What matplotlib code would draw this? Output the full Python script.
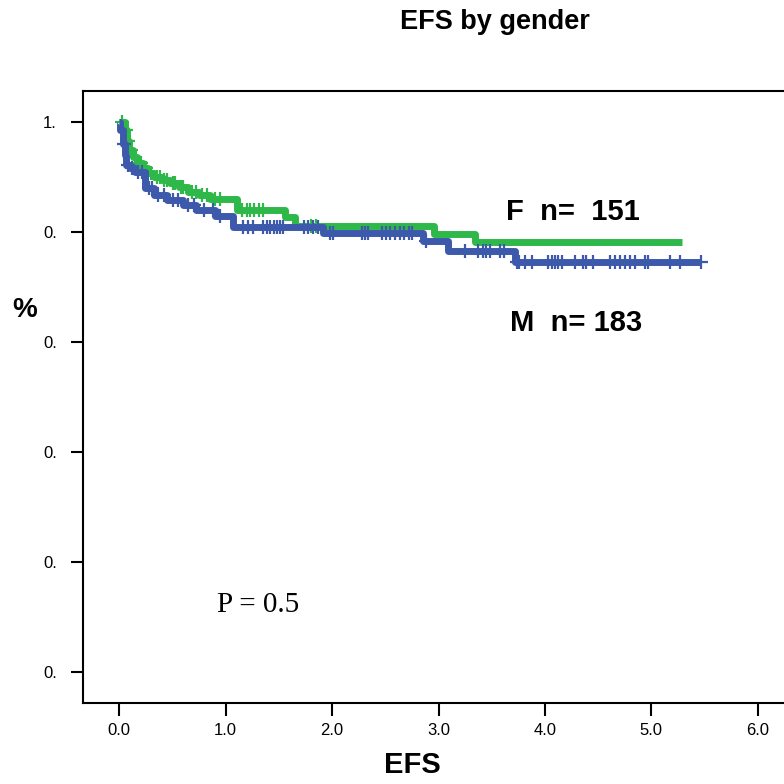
import numpy as np
import matplotlib.pyplot as plt

# ---- data (Kaplan-Meier style step curves) ----
f_times = [0.0, 0.05, 0.07, 0.09, 0.13, 0.17, 0.22, 0.27, 0.33, 0.40, 0.48,
           0.56, 0.65, 0.75, 0.85, 1.11, 1.56, 1.65, 2.96, 3.34]
f_surv = [1.0, 0.985, 0.965, 0.948, 0.935, 0.925, 0.915, 0.907, 0.900, 0.894,
          0.888, 0.881, 0.873, 0.866, 0.860, 0.839, 0.827, 0.810, 0.796, 0.781]
f_end = 5.29
f_cens = [0.03, 0.06, 0.08, 0.11, 0.15, 0.19, 0.20, 0.24, 0.25, 0.30, 0.35,
          0.38, 0.42, 0.45, 0.50, 0.52, 0.58, 0.60, 0.68, 0.72, 0.78, 0.82,
          0.90, 0.95, 1.15, 1.20, 1.23, 1.27, 1.31, 1.35, 1.80, 1.85]

m_times = [0.0, 0.005, 0.035, 0.05, 0.06, 0.10, 0.15, 0.24, 0.33, 0.45, 0.60,
           0.72, 0.90, 1.07, 1.91, 2.85, 3.09, 3.72]
m_surv = [1.0, 0.985, 0.96, 0.94, 0.921, 0.915, 0.909, 0.879, 0.867, 0.858,
          0.849, 0.839, 0.828, 0.809, 0.798, 0.783, 0.765, 0.745]
m_end = 5.47
m_cens = [0.04, 0.08, 0.12, 0.18, 0.21, 0.28, 0.31, 0.36, 0.42, 0.50, 0.55,
          0.65, 0.70, 0.80, 0.88, 0.95, 1.16, 1.21, 1.26, 1.35, 1.39, 1.42,
          1.45, 1.48, 1.51, 1.54, 1.74, 1.77, 1.82, 1.87, 1.98, 2.01, 2.28,
          2.31, 2.34, 2.47, 2.51, 2.54, 2.59, 2.64, 2.68, 2.72, 2.75, 2.88,
          3.25, 3.37, 3.42, 3.45, 3.48, 3.58, 3.62, 3.735, 3.757, 3.81,
          3.876, 4.03, 4.063, 4.095, 4.12, 4.157, 4.28, 4.36, 4.39, 4.45,
          4.61, 4.66, 4.71, 4.75, 4.80, 4.85, 4.94, 4.97, 5.18, 5.27, 5.47]

x_ticks = [0.0, 1.0, 2.0, 3.0, 4.0, 5.0, 6.0]
x_labels = ["0.0", "1.0", "2.0", "3.0", "4.0", "5.0", "6.0"]
y_ticks = [0.0, 0.2, 0.4, 0.6, 0.8, 1.0]
y_labels = ["0.", "0.", "0.", "0.", "0.", "1."]

GREEN = "#2eb84a"
BLUE = "#3d59ab"

plt.rcParams["font.family"] = ["Liberation Sans", "DejaVu Sans"]

fig = plt.figure(figsize=(7.84, 7.84), dpi=100)
ax = fig.add_axes([0.1063, 0.1029, 0.8937, 0.781])


def draw_km(times, surv, end, cens, color):
    t = np.array(times + [end])
    s = np.array(surv + [surv[-1]])
    ax.step(t, s, where="post", color=color, linewidth=5, solid_capstyle="butt")
    c = np.array(cens)
    idx = np.searchsorted(np.array(times), c, side="right") - 1
    ax.plot(c, np.array(surv)[idx], linestyle="none", marker="+",
            markersize=10, markeredgewidth=1.6, color=color)


draw_km(f_times, f_surv, f_end, f_cens, GREEN)
draw_km(m_times, m_surv, m_end, m_cens, BLUE)

ax.set_xlim(-0.338, 6.247)
ax.set_ylim(-0.0575, 1.0558)
ax.set_xticks(x_ticks)
ax.set_xticklabels(x_labels)
ax.set_yticks(y_ticks)
ax.set_yticklabels(y_labels)
ax.tick_params(axis="both", direction="out", length=9, width=1.5,
               labelsize=12, color="black")
ax.tick_params(axis="x", pad=5)
ax.tick_params(axis="y", pad=10)
for side in ["left", "bottom", "top"]:
    ax.spines[side].set_linewidth(1.5)
ax.spines["right"].set_visible(False)

fig.text(495 / 784, 1 - 22 / 784, "EFS by gender", ha="center", va="center",
         fontsize=19.5, fontweight="bold")
fig.text(412 / 784, 1 - 765 / 784, "EFS", ha="center", va="center",
         fontsize=21, fontweight="bold")
fig.text(25 / 784, 1 - 310 / 784, "%", ha="center", va="center",
         fontsize=20, fontweight="bold")
fig.text(506 / 784, 1 - 212 / 784, "F  n=  151", ha="left", va="center",
         fontsize=21, fontweight="bold")
fig.text(510 / 784, 1 - 323 / 784, "M  n= 183", ha="left", va="center",
         fontsize=21, fontweight="bold")
fig.text(258 / 784, 1 - 605 / 784, "P = 0.5", ha="center", va="center",
         fontsize=21, family=["Liberation Serif", "DejaVu Serif"])

fig.savefig("out.png", dpi=100)
